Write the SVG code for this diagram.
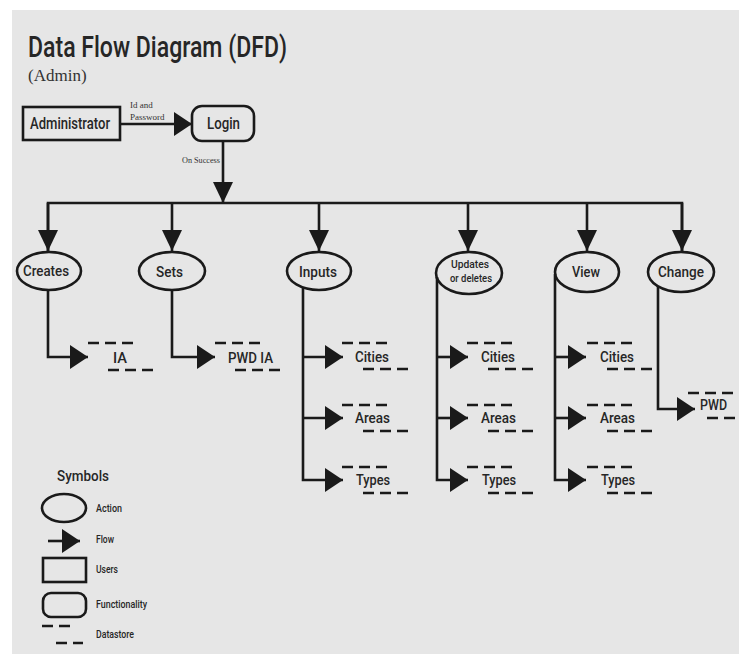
<svg xmlns="http://www.w3.org/2000/svg" width="739" height="654" viewBox="0 0 739 654">
<style>
.ln{fill:none;stroke:#1a1a1a;stroke-width:2.6}
.sh{fill:none;stroke:#1a1a1a;stroke-width:2.6}
.ds{fill:none;stroke:#1a1a1a;stroke-width:2.6;stroke-dasharray:11 6}
.t{font-family:Roboto,"Liberation Sans",sans-serif;font-weight:500;fill:#262626}
.s{font-family:"Liberation Serif",serif;fill:#333}
.lbl{font-size:15px;text-anchor:middle}
.lg{font-size:10.5px}
</style>
<defs>
<marker id="ah" viewBox="0 0 18 24" refX="18" refY="12" markerWidth="18" markerHeight="24" markerUnits="userSpaceOnUse" orient="auto"><path d="M0,0 L18,12 L0,24 Z" fill="#1a1a1a"/></marker>
<marker id="av" viewBox="0 0 21 20" refX="21" refY="10" markerWidth="21" markerHeight="20" markerUnits="userSpaceOnUse" orient="auto"><path d="M0,0 L21,10 L0,20 Z" fill="#1a1a1a"/></marker>
</defs>
<rect x="0" y="0" width="739" height="654" fill="#ffffff"/>
<rect x="12" y="10" width="727" height="644" fill="#e6e6e6"/>

<g id="title">
<text class="t" x="28" y="57" font-size="29" font-weight="400" textLength="259" lengthAdjust="spacingAndGlyphs">Data Flow Diagram (DFD)</text>
<text class="s" x="28" y="81" font-size="17">(Admin)</text>
</g>

<g id="connectors">
<line class="ln" x1="120" y1="124" x2="192" y2="124" marker-end="url(#ah)"/>
<line class="ln" x1="223" y1="141" x2="223" y2="203" marker-end="url(#av)"/>
<path class="ln" d="M48,251 V203 H682 V251"/>
<line class="ln" x1="48" y1="203" x2="48" y2="251" marker-end="url(#av)"/>
<line class="ln" x1="172" y1="203" x2="172" y2="251" marker-end="url(#av)"/>
<line class="ln" x1="319" y1="203" x2="319" y2="251" marker-end="url(#av)"/>
<line class="ln" x1="468" y1="203" x2="468" y2="251" marker-end="url(#av)"/>
<line class="ln" x1="587" y1="203" x2="587" y2="251" marker-end="url(#av)"/>
<line class="ln" x1="682" y1="203" x2="682" y2="251" marker-end="url(#av)"/>
<path class="ln" d="M48,290 V357 H88" marker-end="url(#ah)"/>
<path class="ln" d="M172,290 V357 H215" marker-end="url(#ah)"/>
<path class="ln" d="M303,287 V480 H343" marker-end="url(#ah)"/>
<line class="ln" x1="303" y1="357" x2="343" y2="357" marker-end="url(#ah)"/>
<line class="ln" x1="303" y1="418" x2="343" y2="418" marker-end="url(#ah)"/>
<path class="ln" d="M437,277 V480 H468" marker-end="url(#ah)"/>
<line class="ln" x1="437" y1="357" x2="468" y2="357" marker-end="url(#ah)"/>
<line class="ln" x1="437" y1="418" x2="468" y2="418" marker-end="url(#ah)"/>
<path class="ln" d="M555,274 V480 H586" marker-end="url(#ah)"/>
<line class="ln" x1="555" y1="357" x2="586" y2="357" marker-end="url(#ah)"/>
<line class="ln" x1="555" y1="418" x2="586" y2="418" marker-end="url(#ah)"/>
<path class="ln" d="M658,286 V409 H695" marker-end="url(#ah)"/>
<text class="s" x="130" y="108" font-size="9">Id and</text>
<text class="s" x="130" y="120" font-size="9">Password</text>
<text class="s" x="182" y="163" font-size="8.5" textLength="38" lengthAdjust="spacingAndGlyphs">On Success</text>
</g>

<g id="administrator">
<rect class="sh" x="23" y="107" width="97" height="33"/>
<text class="t" x="30" y="129" font-size="16" textLength="80" lengthAdjust="spacingAndGlyphs">Administrator</text>
</g>
<g id="login">
<rect class="sh" x="192" y="106" width="62" height="35" rx="10"/>
<text class="t" x="207" y="129" font-size="16" textLength="33" lengthAdjust="spacingAndGlyphs">Login</text>
</g>

<g id="creates">
<ellipse class="sh" cx="49" cy="271" rx="32" ry="19"/>
<text class="t" x="23" y="276" font-size="15" textLength="46" lengthAdjust="spacingAndGlyphs">Creates</text>
</g>
<g id="sets">
<ellipse class="sh" cx="172" cy="271" rx="33" ry="19"/>
<text class="t" x="156" y="277" font-size="15" textLength="27" lengthAdjust="spacingAndGlyphs">Sets</text>
</g>
<g id="inputs">
<ellipse class="sh" cx="319" cy="271" rx="32" ry="19"/>
<text class="t" x="299" y="277" font-size="15" textLength="38" lengthAdjust="spacingAndGlyphs">Inputs</text>
</g>
<g id="updates">
<ellipse class="sh" cx="469" cy="273" rx="33" ry="21"/>
<text class="t" x="451" y="268" font-size="11.5" textLength="38" lengthAdjust="spacingAndGlyphs">Updates</text>
<text class="t" x="450" y="282" font-size="11.5" textLength="42" lengthAdjust="spacingAndGlyphs">or deletes</text>
</g>
<g id="view">
<ellipse class="sh" cx="587" cy="272" rx="32" ry="20"/>
<text class="t" x="572" y="277" font-size="15" textLength="28" lengthAdjust="spacingAndGlyphs">View</text>
</g>
<g id="change">
<ellipse class="sh" cx="681" cy="272" rx="33" ry="20"/>
<text class="t" x="658" y="277" font-size="15" textLength="46" lengthAdjust="spacingAndGlyphs">Change</text>
</g>

<g id="ds-ia">
<line class="ds" x1="88" y1="343" x2="133" y2="343"/>
<line class="ds" x1="108" y1="370" x2="153" y2="370"/>
<text class="t" x="113" y="363" font-size="15" textLength="14" lengthAdjust="spacingAndGlyphs">IA</text>
</g>
<g id="ds-pwdia">
<line class="ds" x1="215" y1="343" x2="260" y2="343"/>
<line class="ds" x1="235" y1="370" x2="280" y2="370"/>
<text class="t" x="228" y="363" font-size="15" textLength="45" lengthAdjust="spacingAndGlyphs">PWD IA</text>
</g>

<g id="ds-inputs-cities">
<line class="ds" x1="342" y1="343" x2="387" y2="343"/>
<line class="ds" x1="363" y1="369" x2="408" y2="369"/>
<text class="t" x="355" y="362" font-size="15" textLength="34" lengthAdjust="spacingAndGlyphs">Cities</text>
</g>
<g id="ds-inputs-areas">
<line class="ds" x1="342" y1="405" x2="387" y2="405"/>
<line class="ds" x1="363" y1="431" x2="408" y2="431"/>
<text class="t" x="355" y="423" font-size="15" textLength="35" lengthAdjust="spacingAndGlyphs">Areas</text>
</g>
<g id="ds-inputs-types">
<line class="ds" x1="342" y1="467" x2="387" y2="467"/>
<line class="ds" x1="363" y1="493" x2="408" y2="493"/>
<text class="t" x="356" y="485" font-size="15" textLength="34" lengthAdjust="spacingAndGlyphs">Types</text>
</g>

<g id="ds-updates-cities">
<line class="ds" x1="467" y1="343" x2="512" y2="343"/>
<line class="ds" x1="488" y1="369" x2="533" y2="369"/>
<text class="t" x="481" y="362" font-size="15" textLength="34" lengthAdjust="spacingAndGlyphs">Cities</text>
</g>
<g id="ds-updates-areas">
<line class="ds" x1="467" y1="405" x2="512" y2="405"/>
<line class="ds" x1="488" y1="431" x2="533" y2="431"/>
<text class="t" x="481" y="423" font-size="15" textLength="35" lengthAdjust="spacingAndGlyphs">Areas</text>
</g>
<g id="ds-updates-types">
<line class="ds" x1="467" y1="467" x2="512" y2="467"/>
<line class="ds" x1="488" y1="493" x2="533" y2="493"/>
<text class="t" x="482" y="485" font-size="15" textLength="34" lengthAdjust="spacingAndGlyphs">Types</text>
</g>

<g id="ds-view-cities">
<line class="ds" x1="587" y1="343" x2="632" y2="343"/>
<line class="ds" x1="607" y1="369" x2="652" y2="369"/>
<text class="t" x="600" y="362" font-size="15" textLength="34" lengthAdjust="spacingAndGlyphs">Cities</text>
</g>
<g id="ds-view-areas">
<line class="ds" x1="587" y1="405" x2="632" y2="405"/>
<line class="ds" x1="607" y1="431" x2="652" y2="431"/>
<text class="t" x="600" y="423" font-size="15" textLength="35" lengthAdjust="spacingAndGlyphs">Areas</text>
</g>
<g id="ds-view-types">
<line class="ds" x1="587" y1="467" x2="632" y2="467"/>
<line class="ds" x1="607" y1="493" x2="652" y2="493"/>
<text class="t" x="601" y="485" font-size="15" textLength="34" lengthAdjust="spacingAndGlyphs">Types</text>
</g>

<g id="ds-pwd">
<line class="ds" x1="688" y1="393" x2="739" y2="393"/>
<line class="ds" x1="707" y1="418" x2="739" y2="418"/>
<text class="t" x="700" y="410" font-size="14" textLength="27" lengthAdjust="spacingAndGlyphs">PWD</text>
</g>

<g id="legend">
<text class="t" x="57" y="481" font-size="15" textLength="52" lengthAdjust="spacingAndGlyphs">Symbols</text>
<ellipse class="sh" cx="64" cy="508" rx="22" ry="14"/>
<text class="t lg" x="96" y="512" textLength="26" lengthAdjust="spacingAndGlyphs">Action</text>
<line class="ln" x1="48" y1="541" x2="80" y2="541" marker-end="url(#ah)"/>
<text class="t lg" x="96" y="543" textLength="18" lengthAdjust="spacingAndGlyphs">Flow</text>
<rect class="sh" x="43" y="558" width="43" height="24"/>
<text class="t lg" x="96" y="573" textLength="22" lengthAdjust="spacingAndGlyphs">Users</text>
<rect class="sh" x="43" y="593" width="43" height="24" rx="8"/>
<text class="t lg" x="96" y="608" textLength="51" lengthAdjust="spacingAndGlyphs">Functionality</text>
<line class="ds" x1="42" y1="626" x2="70" y2="626"/>
<line class="ds" x1="56" y1="643" x2="83" y2="643"/>
<text class="t lg" x="96" y="638" textLength="38" lengthAdjust="spacingAndGlyphs">Datastore</text>
</g>
</svg>
